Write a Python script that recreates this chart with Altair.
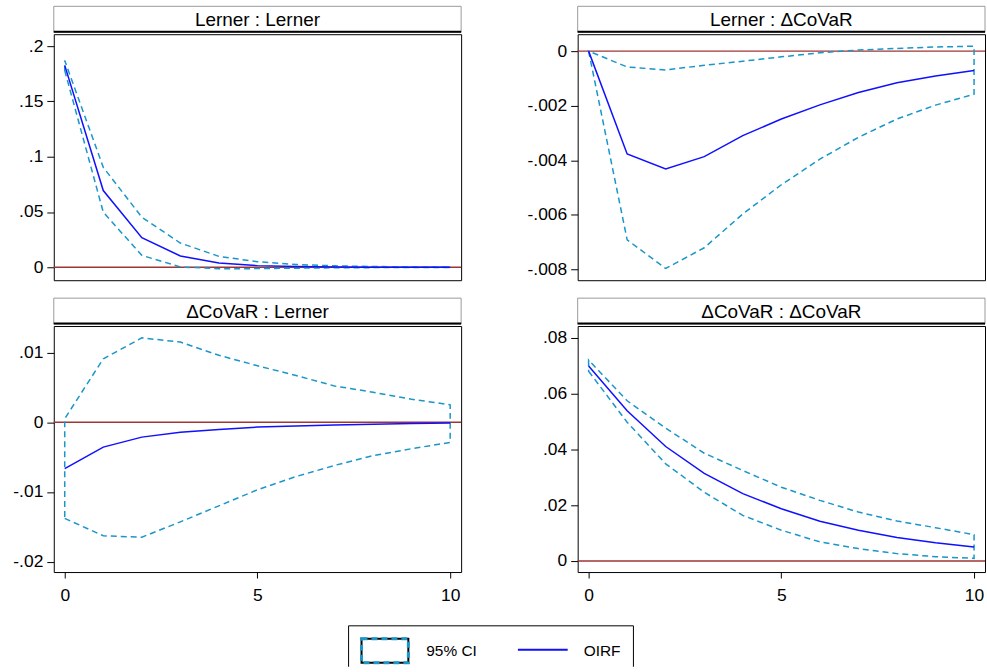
import altair as alt
import pandas as pd

STEPS = list(range(11))

# Lerner : Lerner
LL_OIRF = [0.1826, 0.0694, 0.0267, 0.0102, 0.0039, 0.0015, 0.0006, 0.0002, 0.0001, 0.00005, 0.00002]
LL_HI = [0.1870, 0.0904, 0.0453, 0.0219, 0.0099, 0.0050, 0.0025, 0.0013, 0.0007, 0.0004, 0.0002]
LL_LO = [0.1780, 0.0498, 0.0108, 0.0003, -0.0013, -0.0012, -0.0008, -0.0005, -0.0003, -0.0002, -0.0001]

# Lerner : ΔCoVaR
LD_OIRF = [0.0, -0.00377, -0.00432, -0.00387, -0.00310, -0.00249, -0.00197, -0.00152, -0.00116, -0.00091, -0.00071]
LD_HI = [0.0, -0.00058, -0.00069, -0.00052, -0.00037, -0.00021, -0.00006, 0.00004, 0.00010, 0.00015, 0.00018]
LD_LO = [0.0, -0.00692, -0.00797, -0.00721, -0.00597, -0.00490, -0.00396, -0.00316, -0.00249, -0.00198, -0.00158]

# ΔCoVaR : Lerner
DL_OIRF = [-0.00666, -0.00357, -0.00214, -0.00143, -0.00104, -0.00070, -0.00056, -0.00041, -0.00030, -0.00020, -0.00012]
DL_HI = [0.0005, 0.0091, 0.0121, 0.0115, 0.0096, 0.0081, 0.0067, 0.0052, 0.0043, 0.0033, 0.0025]
DL_LO = [-0.0138, -0.0163, -0.0165, -0.0143, -0.0120, -0.0097, -0.0078, -0.0062, -0.0048, -0.0038, -0.0029]

# ΔCoVaR : ΔCoVaR
DD_OIRF = [0.0699, 0.0538, 0.0410, 0.0314, 0.0241, 0.0187, 0.0142, 0.0110, 0.0084, 0.0065, 0.0050]
DD_HI = [0.0720, 0.0574, 0.0476, 0.0386, 0.0324, 0.0264, 0.0217, 0.0175, 0.0143, 0.0119, 0.0094]
DD_LO = [0.0680, 0.0497, 0.0348, 0.0246, 0.0163, 0.0110, 0.0068, 0.0044, 0.0026, 0.0015, 0.0009]

TITLES = ["Lerner : Lerner", "Lerner : ΔCoVaR", "ΔCoVaR : Lerner", "ΔCoVaR : ΔCoVaR"]
Y_TICKS = [
    [0, 0.05, 0.1, 0.15, 0.2],
    [-0.008, -0.006, -0.004, -0.002, 0],
    [-0.02, -0.01, 0, 0.01],
    [0, 0.02, 0.04, 0.06, 0.08],
]
Y_DOMAINS = [
    [-0.0117, 0.2108],
    [-0.0084, 0.00062],
    [-0.0215, 0.0138],
    [-0.0040, 0.0842],
]
X_TICKS = [0, 5, 10]
LEGEND_LABELS = ["95% CI", "OIRF"]

FONT = "Liberation Sans"
CI_COLOR = "#1a96c8"
OIRF_COLOR = "#1010ff"
ZERO_COLOR = "#a03535"
W = 409
H = 247
HH = 26
EXT = 53

LABEL_EXPR = "datum.value == 0 ? '0' : replace(toString(datum.value), '0.', '.')"


def header(title):
    base = alt.Chart(pd.DataFrame({"t": [title]}))
    box = base.mark_rect(fill="white", stroke="#9a9a9a", strokeWidth=1).encode(
        x=alt.value(0), x2=alt.value(W), y=alt.value(0), y2=alt.value(HH)
    )
    bottom = base.mark_rule(color="black", strokeWidth=2).encode(
        x=alt.value(0), x2=alt.value(W), y=alt.value(HH - 0.5)
    )
    txt = base.mark_text(font=FONT, fontSize=19, color="black", baseline="middle").encode(
        x=alt.value(W / 2), y=alt.value(HH / 2 + 1), text="t:N"
    )
    return alt.layer(box, bottom, txt).properties(
        width=W, height=HH, view=alt.ViewBackground(strokeWidth=0)
    )


def panel(i, oirf, lo, hi, show_x):
    df = pd.DataFrame({"step": STEPS, "oirf": oirf, "lo": lo, "hi": hi})
    base = alt.Chart(df)
    if show_x:
        xaxis = alt.Axis(values=X_TICKS, grid=False, domain=False, tickSize=6, tickColor="black",
                         labelFont=FONT, labelFontSize=17.5, labelColor="black", labelPadding=9,
                         labelFlush=False, minExtent=30, maxExtent=30)
    else:
        xaxis = None
    x = alt.X("step:Q", scale=alt.Scale(domain=[-0.284, 10.284], nice=False, zero=False),
              axis=xaxis, title=None)
    yscale = alt.Scale(domain=Y_DOMAINS[i], nice=False, zero=False)
    yaxis = alt.Axis(values=Y_TICKS[i], grid=False, domain=False, tickSize=7, tickColor="black",
                     labelFont=FONT, labelFontSize=17.5, labelColor="black", labelPadding=4,
                     labelExpr=LABEL_EXPR, labelFlush=False, minExtent=EXT, maxExtent=EXT)
    zero = alt.Chart(pd.DataFrame({"z": [0]})).mark_rule(color=ZERO_COLOR, strokeWidth=1.5).encode(
        y=alt.Y("z:Q", scale=yscale, axis=yaxis, title=None)
    )
    ci = base.mark_area(fillOpacity=0, stroke=CI_COLOR, strokeWidth=1.5, strokeDash=[6, 4]).encode(
        x=x, y=alt.Y("lo:Q", scale=yscale, axis=yaxis, title=None), y2="hi:Q"
    )
    line = base.mark_line(color=OIRF_COLOR, strokeWidth=1.5).encode(
        x=x, y=alt.Y("oirf:Q", scale=yscale, axis=yaxis, title=None)
    )
    plot = alt.layer(zero, ci, line).properties(
        width=W, height=H, view=alt.ViewBackground(stroke="black", strokeWidth=1)
    )
    return alt.vconcat(header(TITLES[i]), plot, spacing=0)


row1 = alt.hconcat(panel(0, LL_OIRF, LL_LO, LL_HI, False),
                   panel(1, LD_OIRF, LD_LO, LD_HI, False), spacing=61)
row2 = alt.hconcat(panel(2, DL_OIRF, DL_LO, DL_HI, True),
                   panel(3, DD_OIRF, DD_LO, DD_HI, True), spacing=61)

# legend (x positions relative to the plot origin at x = EXT)
LW = 600
LH = 46
lbase = alt.Chart(pd.DataFrame({"a": [0]}))
OX = -EXT
LY0 = 5
lbox = lbase.mark_rect(fill="white", stroke="black", strokeWidth=1, clip=True).encode(
    x=alt.value(349 + OX), x2=alt.value(635 + OX), y=alt.value(LY0), y2=alt.value(LY0 + 80)
)
sym1 = lbase.mark_rect(fill="white", stroke="black", strokeWidth=2).encode(
    x=alt.value(362 + OX), x2=alt.value(409 + OX), y=alt.value(LY0 + 13), y2=alt.value(LY0 + 37)
)
sym2 = lbase.mark_rect(fillOpacity=0, stroke=CI_COLOR, strokeWidth=3, strokeDash=[6, 4]).encode(
    x=alt.value(362 + OX), x2=alt.value(409 + OX), y=alt.value(LY0 + 13), y2=alt.value(LY0 + 37)
)
sym3 = lbase.mark_rule(color=OIRF_COLOR, strokeWidth=2).encode(
    x=alt.value(519 + OX), x2=alt.value(569 + OX), y=alt.value(LY0 + 24)
)
t1 = lbase.mark_text(font=FONT, fontSize=15.5, color="black", align="left", baseline="middle").encode(
    x=alt.value(427 + OX), y=alt.value(LY0 + 25), text=alt.value(LEGEND_LABELS[0])
)
t2 = lbase.mark_text(font=FONT, fontSize=15.5, color="black", align="left", baseline="middle").encode(
    x=alt.value(585 + OX), y=alt.value(LY0 + 25), text=alt.value(LEGEND_LABELS[1])
)
legend = alt.layer(lbox, sym1, sym2, sym3, t1, t2).properties(
    width=LW, height=LH, view=alt.ViewBackground(strokeWidth=0)
)

chart = alt.vconcat(row1, row2, legend, spacing=16).properties(
    padding={"left": 0, "top": 4, "right": 0, "bottom": 0}
).configure(background="white")

chart.save("out.html", embed_options={"renderer": "svg", "actions": False})
